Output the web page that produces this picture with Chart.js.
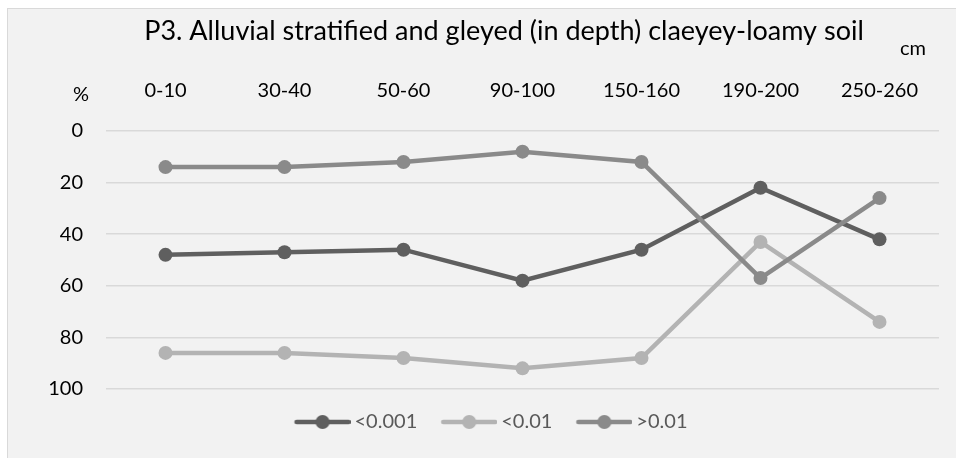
<!DOCTYPE html>
<html>
<head>
<meta charset="utf-8">
<script src="https://cdn.jsdelivr.net/npm/chart.js@4"></script>
<style>
  html, body { margin: 0; padding: 0; background: #fff; overflow: hidden; }
  #frame {
    position: absolute; left: 7px; top: 8px; width: 960px; height: 460px;
    background: #f2f2f2; border-left: 1px solid #d9d9d9; border-top: 1px solid #d9d9d9;
  }
  #chart { position: absolute; left: 0; top: 0; }
</style>
</head>
<body>
<div id="frame"></div>
<canvas id="chart" width="956" height="458"></canvas>
<script>
const depths = ["0-10", "30-40", "50-60", "90-100", "150-160", "190-200", "250-260"];
const fine = [48, 47, 46, 58, 46, 22, 42];      // <0.001
const medium = [86, 86, 88, 92, 88, 43, 74];    // <0.01
const coarse = [14, 14, 12, 8, 12, 57, 26];     // >0.01
const yTicks = [0, 20, 40, 60, 80, 100];

const dark = "#5f5f5f";
const light = "#b3b3b3";
const mid = "#8a8a8a";
const font = "Lato";
const padLeft = 42;

// legend marker: short line with a dot in the middle
function marker(color) {
  const c = document.createElement("canvas");
  c.width = 63;
  c.height = 16;
  const g = c.getContext("2d");
  g.strokeStyle = color;
  g.lineWidth = 4.5;
  g.lineCap = "round";
  g.beginPath();
  g.moveTo(9, 8);
  g.lineTo(61, 8);
  g.stroke();
  g.fillStyle = color;
  g.beginPath();
  g.arc(35, 8, 7, 0, Math.PI * 2);
  g.fill();
  return c;
}

function series(label, data, color, order) {
  return {
    label, data, order,
    borderColor: color,
    backgroundColor: color,
    borderWidth: 4.5,
    pointRadius: 7,
    pointHoverRadius: 7,
    pointBorderWidth: 0,
    pointBackgroundColor: color,
    tension: 0,
  };
}

const extraText = {
  id: "extraText",
  afterDraw(chart) {
    const ctx = chart.ctx;
    ctx.save();
    ctx.textBaseline = "alphabetic";
    ctx.textAlign = "center";
    ctx.fillStyle = "#000";
    ctx.font = "27px " + font;
    ctx.fillText("P3. Alluvial stratified and gleyed (in depth) claeyey-loamy soil", 504, 40);
    ctx.font = "20px " + font;
    ctx.fillText("cm", 913, 55);
    ctx.fillText("%", 81, 101);
    ctx.restore();
  },
};

new Chart(document.getElementById("chart"), {
  type: "line",
  data: {
    labels: depths,
    datasets: [
      series("<0.001", fine, dark, 2),
      series("<0.01", medium, light, 1),
      series(">0.01", coarse, mid, 0),
    ],
  },
  options: {
    responsive: false,
    animation: false,
    layout: { padding: { top: 60, right: 17, left: padLeft, bottom: 16 } },
    scales: {
      x: {
        position: "top",
        offset: true,
        grid: { display: false },
        border: { display: false },
        ticks: { font: { family: font, size: 20 }, color: "#000", padding: 20, maxRotation: 0 },
        afterFit(s) { s.height = 71; },
      },
      y: {
        reverse: true,
        min: 0,
        max: 100,
        afterBuildTicks(s) { s.ticks = yTicks.map(v => ({ value: v })); },
        grid: { color: "#d9d9d9", lineWidth: 1.5, drawTicks: false },
        border: { display: false },
        ticks: { font: { family: font, size: 20 }, color: "#000", padding: 23 },
        afterFit(s) { s.width = 106 - padLeft; },
      },
    },
    plugins: {
      title: { display: false },
      tooltip: { enabled: false },
      legend: {
        position: "bottom",
        labels: {
          usePointStyle: true,
          pointStyleWidth: 51,
          padding: 23,
          color: "#595959",
          font: { family: font, size: 20 },
          generateLabels(chart) {
            return chart.data.datasets.map((d, i) => ({
              text: d.label,
              pointStyle: marker(d.borderColor),
              fillStyle: d.borderColor,
              strokeStyle: d.borderColor,
              lineWidth: 0,
              fontColor: "#595959",
              datasetIndex: i,
              hidden: false,
            }));
          },
        },
      },
    },
  },
  plugins: [extraText],
});
</script>
</body>
</html>
